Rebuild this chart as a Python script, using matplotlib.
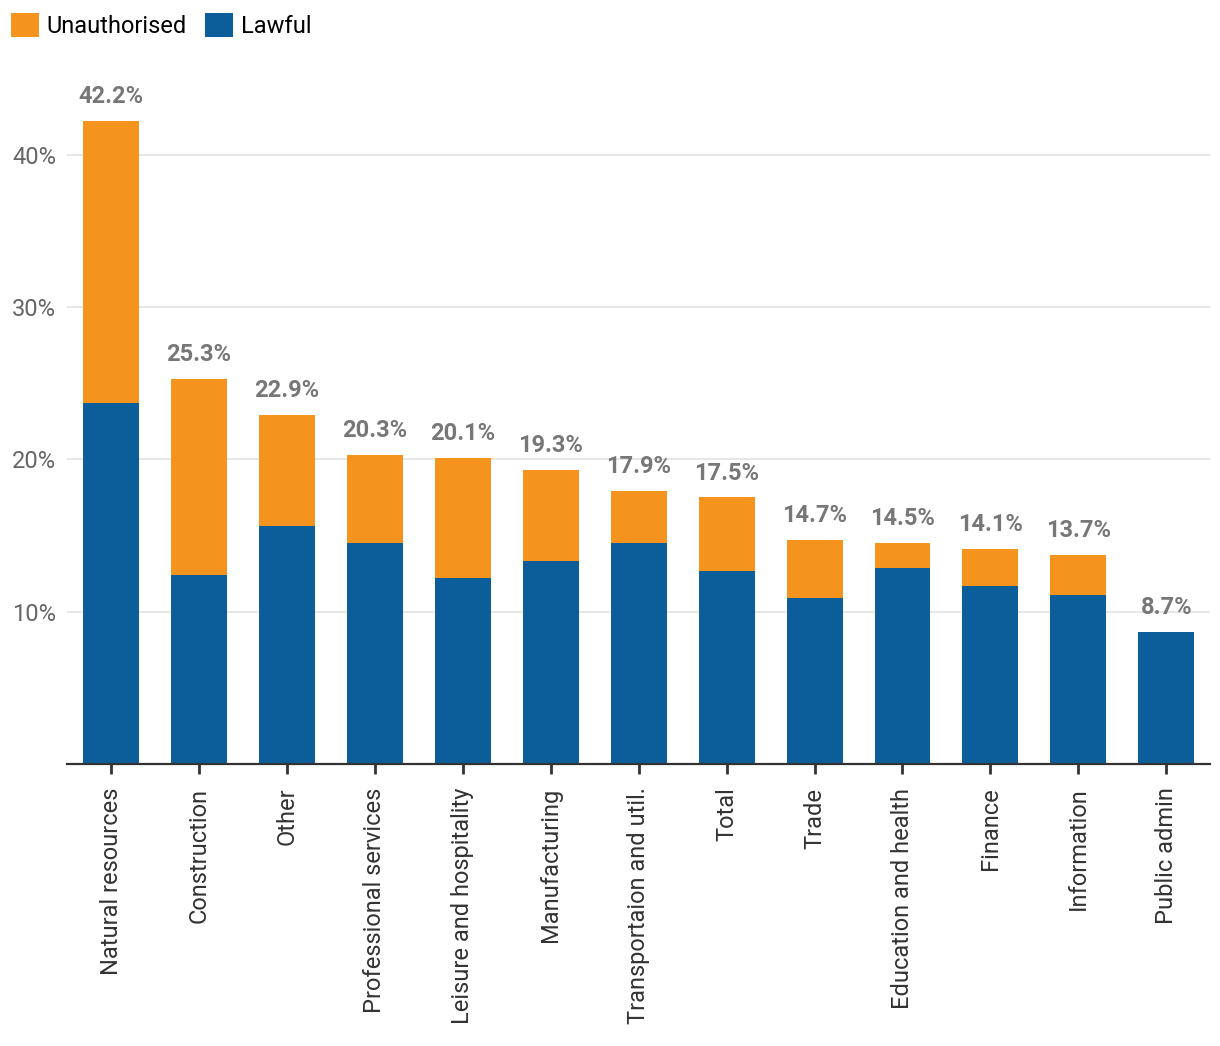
import matplotlib.pyplot as plt
from matplotlib.ticker import FixedLocator

plt.rcParams['font.family'] = ['Roboto', 'DejaVu Sans']

# Data
categories = ['Natural resources', 'Construction', 'Other', 'Professional services',
              'Leisure and hospitality', 'Manufacturing', 'Transportaion and util.',
              'Total', 'Trade', 'Education and health', 'Finance', 'Information',
              'Public admin']
totals = [42.2, 25.3, 22.9, 20.3, 20.1, 19.3, 17.9, 17.5, 14.7, 14.5, 14.1, 13.7, 8.7]
lawful = [23.7, 12.4, 15.6, 14.5, 12.2, 13.3, 14.5, 12.7, 10.9, 12.9, 11.7, 11.1, 8.7]
unauthorised = [round(t - l, 1) for t, l in zip(totals, lawful)]

orange = '#F5931F'
blue = '#0B5E99'

fig = plt.figure(figsize=(12.2, 10.46), dpi=100)
ax = fig.add_axes([0.055, 0.2696, 0.937, 0.645])

x = list(range(len(categories)))
b1 = ax.bar(x, lawful, width=0.636, color=blue, label='Lawful', zorder=2)
b2 = ax.bar(x, unauthorised, bottom=lawful, width=0.636, color=orange,
            label='Unauthorised', zorder=2)

# total labels above the bars
for xi, t in zip(x, totals):
    ax.text(xi, t + 0.85, f'{t}%', ha='center', va='bottom', fontsize=17,
            fontweight='bold', color='#777777')

ax.set_xlim(-0.5, 12.5)
ax.set_ylim(0, 44.3)
ax.yaxis.set_major_locator(FixedLocator([10, 20, 30, 40]))
ax.set_yticklabels(['10%', '20%', '30%', '40%'])
ax.grid(axis='y', color='#e3e3e3', linewidth=1.2, zorder=0)
ax.tick_params(axis='y', length=0, labelsize=17, labelcolor='#666666', pad=8)

ax.set_xticks(x)
ax.set_xticklabels(categories, rotation=90, fontsize=17, color='#333333')
ax.tick_params(axis='x', length=7, width=2, color='#333333', pad=10)

for s in ['top', 'right', 'left']:
    ax.spines[s].set_visible(False)
ax.spines['bottom'].set_color('#333333')
ax.spines['bottom'].set_linewidth(1.6)

fig.legend(handles=[b2, b1], labels=['Unauthorised', 'Lawful'], loc='upper left',
           bbox_to_anchor=(-0.002, 1.0), ncol=2, frameon=False, fontsize=17,
           handlelength=1.2, handleheight=1.2, handletextpad=0.3, columnspacing=0.8,
           borderaxespad=0.15)

plt.savefig('out.png', dpi=100)
